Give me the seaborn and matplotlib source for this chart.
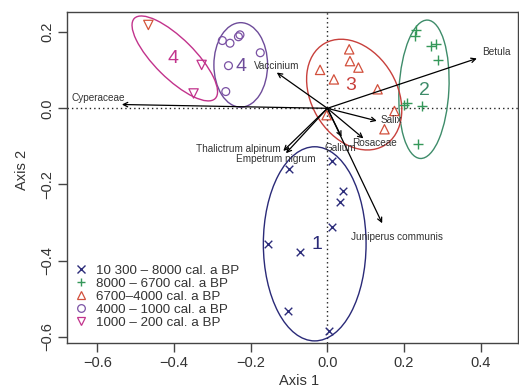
import numpy as np
import pandas as pd
import matplotlib
matplotlib.use("Agg")
import matplotlib.pyplot as plt
from matplotlib.patches import Ellipse
from matplotlib.lines import Line2D
import seaborn as sns

# ---- sample scores (Axis 1, Axis 2) per period ----
periods = ["10 300 – 8000 cal. a BP", "8000 – 6700 cal. a BP", "6700–4000 cal. a BP",
           "4000 – 1000 cal. a BP", "1000 – 200 cal. a BP"]

p1_x = [-0.101, 0.012, 0.042, 0.033, 0.011, -0.071, -0.156, -0.102, 0.003]
p1_y = [-0.159, -0.138, -0.217, -0.245, -0.313, -0.378, -0.357, -0.532, -0.584]

p2_x = [0.231, 0.229, 0.270, 0.283, 0.289, 0.209, 0.201, 0.248, 0.237]
p2_y = [0.207, 0.189, 0.164, 0.168, 0.127, 0.013, 0.010, 0.005, -0.094]

p3_x = [0.057, 0.059, 0.081, -0.019, 0.017, 0.131, 0.175, 0.149, -0.002]
p3_y = [0.155, 0.124, 0.107, 0.101, 0.076, 0.050, -0.007, -0.055, -0.018]

p4_x = [-0.274, -0.254, -0.232, -0.228, -0.175, -0.258, -0.265]
p4_y = [0.178, 0.171, 0.188, 0.193, 0.146, 0.112, 0.044]

p5_x = [-0.467, -0.328, -0.349]
p5_y = [0.219, 0.114, 0.039]

# ---- species scores (arrow tips) ----
species = ["Betula", "Cyperaceae", "Vaccinium", "Salix", "Rosaceae", "Galium",
           "Juniperus communis", "Thalictrum alpinum", "Empetrum nigrum"]
sp_x = [0.390, -0.536, -0.132, 0.129, 0.094, 0.037, 0.143, -0.115, -0.108]
sp_y = [0.131, 0.010, 0.094, -0.033, -0.079, -0.075, -0.302, -0.112, -0.118]

# ---- group ellipses: centre, full width, full height, rotation (deg) ----
group_names = ["1", "2", "3", "4", "4"]
ell_cx = [-0.033, 0.252, 0.070, -0.226, -0.398]
ell_cy = [-0.356, 0.050, 0.036, 0.114, 0.131]
ell_w = [0.268, 0.130, 0.310, 0.140, 0.298]
ell_h = [0.510, 0.364, 0.224, 0.222, 0.104]
ell_ang = [0, -3, -60, 0, -45]

# ---- styling ----
navy, green, red, purple, magenta = "#2C2C7A", "#35985A", "#D2503C", "#7B52A4", "#C2338C"
ell_colors = ["#2A2A78", "#3E8C6A", "#C8403C", "#6E4C9A", "#C2338C"]
pt_colors = [navy, green, red, purple, magenta]
markers = ["x", "+", "^", "o", "v"]
sizes = [30, 55, 45, 32, 45]
p5_edge = ["#D4553A", magenta, magenta]
text_col = "#333333"

# group number label positions
lab_x = [-0.028, 0.253, 0.061, -0.226, -0.402]
lab_y = [-0.359, 0.048, 0.059, 0.109, 0.131]
# species label positions
sp_lab_x = [0.441, -0.599, -0.132, 0.166, 0.124, 0.034, 0.182, -0.233, -0.134]
sp_lab_y = [0.149, 0.028, 0.112, -0.031, -0.092, -0.105, -0.339, -0.107, -0.133]

sns.set_style("white")
plt.rcParams["font.family"] = ["Liberation Sans", "DejaVu Sans"]

fig = plt.figure(figsize=(5.19, 3.92), dpi=100)
ax = fig.add_axes([0.130, 0.1258, 0.869, 0.8428])

# reference lines through the origin
ax.axhline(0, color="#222222", lw=1.0, ls=(0, (1, 2.2)), zorder=1)
ax.axvline(0, color="#222222", lw=1.0, ls=(0, (1, 2.2)), zorder=1)

# ellipses
for cx, cy, w, h, a, c in zip(ell_cx, ell_cy, ell_w, ell_h, ell_ang, ell_colors):
    ax.add_patch(Ellipse((cx, cy), w, h, angle=a, fill=False, ec=c, lw=1.0, zorder=2))

# sample points
groups = [(p1_x, p1_y), (p2_x, p2_y), (p3_x, p3_y), (p4_x, p4_y), (p5_x, p5_y)]
for i, (gx, gy) in enumerate(groups):
    df = pd.DataFrame({"Axis 1": gx, "Axis 2": gy})
    if markers[i] in ("x", "+"):
        sns.scatterplot(data=df, x="Axis 1", y="Axis 2", marker=markers[i], s=sizes[i],
                        color=pt_colors[i], linewidth=1.0, ax=ax, zorder=3)
    else:
        ec = p5_edge if i == 4 else pt_colors[i]
        sns.scatterplot(data=df, x="Axis 1", y="Axis 2", marker=markers[i], s=sizes[i],
                        facecolors="none", edgecolor=ec, linewidth=0.9, ax=ax, zorder=3)

# species arrows
for x, y in zip(sp_x, sp_y):
    ax.annotate("", xy=(x, y), xytext=(0, 0),
                arrowprops=dict(arrowstyle="->", color="black", lw=0.9,
                                shrinkA=0, shrinkB=0, mutation_scale=8), zorder=4)
for name, x, y in zip(species, sp_lab_x, sp_lab_y):
    ax.text(x, y, name, fontsize=7.2, color=text_col, ha="center", va="center", zorder=5)

# group numbers
for name, x, y, c in zip(group_names, lab_x, lab_y, ell_colors):
    ax.text(x, y, name, fontsize=14, color=c, ha="center", va="center", zorder=5)

ax.set_xlim(-0.678, 0.4986)
ax.set_ylim(-0.6157, 0.2522)
ax.set_xticks([-0.6, -0.4, -0.2, 0.0, 0.2, 0.4])
ax.set_yticks([-0.6, -0.4, -0.2, 0.0, 0.2])
ax.set_xticklabels(["−0.6", "−0.4", "−0.2", "0.0", "0.2", "0.4"])
ax.set_yticklabels(["−0.6", "−0.4", "−0.2", "0.0", "0.2"])
ax.tick_params(axis="both", direction="out", length=6.5, width=1.0, color="#444444",
               labelsize=10.5, labelcolor=text_col, pad=3, left=True, bottom=True)
plt.setp(ax.get_yticklabels(), rotation=90, va="center")
for s in ax.spines.values():
    s.set_color("#444444")
    s.set_linewidth(1.0)

ax.set_xlabel("Axis 1", fontsize=10.5, color=text_col)
ax.set_ylabel("Axis 2", fontsize=10.5, color=text_col)
ax.xaxis.set_label_coords(0.513, -0.095)
ax.yaxis.set_label_coords(-0.085, 0.523)

# legend
handles = []
for i in range(5):
    if markers[i] in ("x", "+"):
        handles.append(Line2D([], [], ls="none", marker=markers[i], color=pt_colors[i],
                              markersize=6, mew=1.0))
    else:
        handles.append(Line2D([], [], ls="none", marker=markers[i], mec=pt_colors[i],
                              mfc="none", markersize=5.5, mew=0.9))
leg = ax.legend(handles, periods, loc="upper left", bbox_to_anchor=(0.0155, 0.236),
                frameon=False, fontsize=9.6, handlelength=1.0, handletextpad=0.6,
                labelspacing=0.05, borderpad=0, borderaxespad=0)
for t in leg.get_texts():
    t.set_color(text_col)

fig.savefig("out.png", dpi=100)
